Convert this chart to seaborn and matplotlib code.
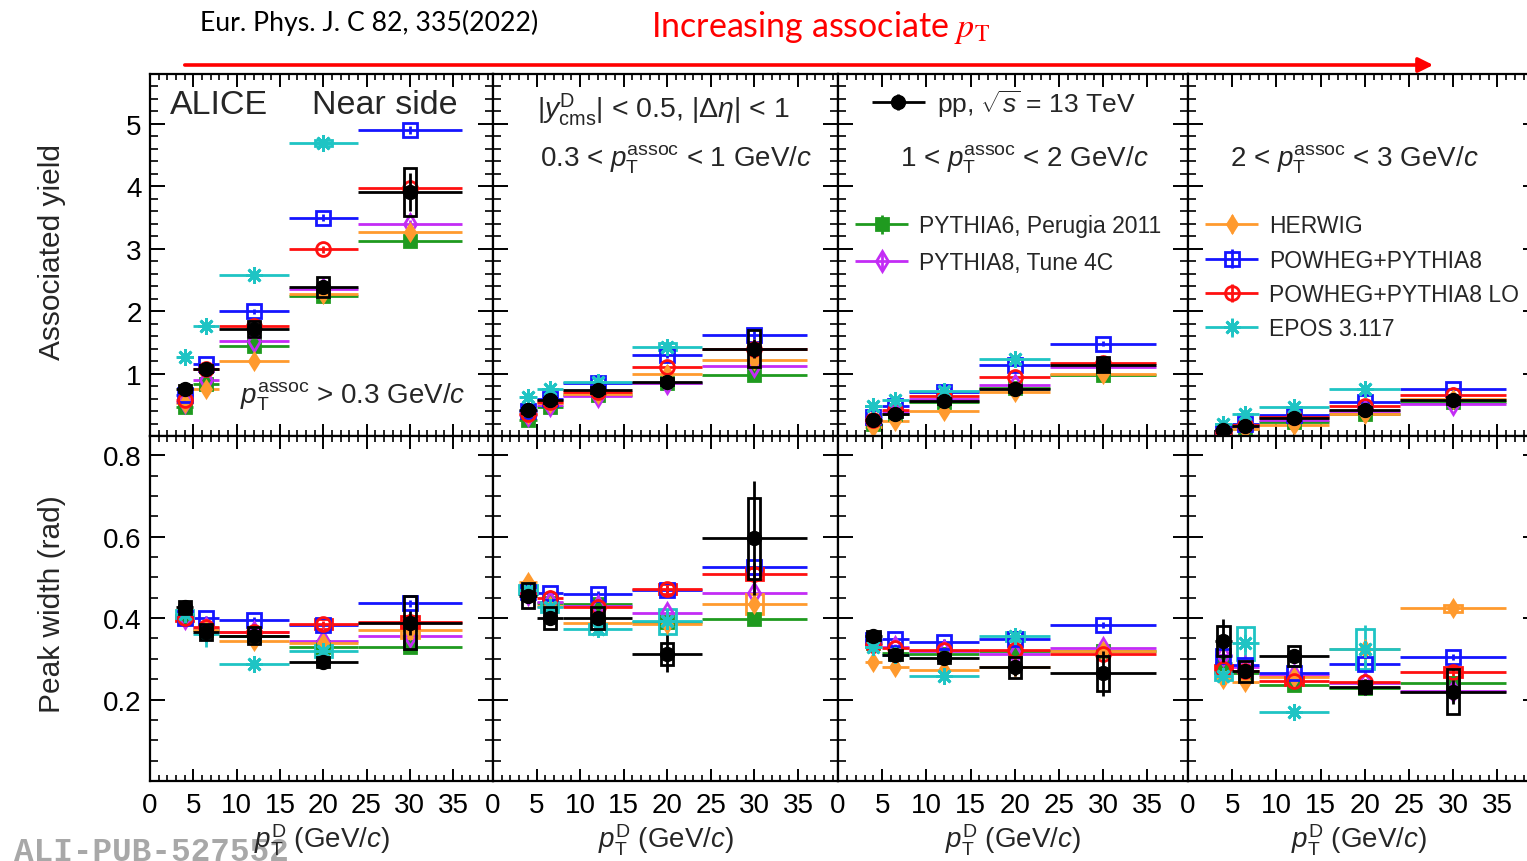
import numpy as np
import matplotlib
matplotlib.use("Agg")
import matplotlib.pyplot as plt
from matplotlib.patches import Rectangle, FancyArrowPatch
from matplotlib.ticker import MultipleLocator, FixedLocator
from matplotlib.container import ErrorbarContainer
from matplotlib.legend_handler import HandlerErrorbar
import seaborn as sns

nan = np.nan

# D-meson pT bins (GeV/c)
pt_lo = [3, 5, 8, 16, 24]
pt_hi = [5, 8, 16, 24, 36]
pt_mid = [4, 6.5, 12, 20, 30]
x_ticks = [0, 5, 10, 15, 20, 25, 30, 35]

assoc_labels = [
    r"$p_{\rm T}^{\rm assoc}$ > 0.3 GeV/$c$",
    r"0.3 < $p_{\rm T}^{\rm assoc}$ < 1 GeV/$c$",
    r"1 < $p_{\rm T}^{\rm assoc}$ < 2 GeV/$c$",
    r"2 < $p_{\rm T}^{\rm assoc}$ < 3 GeV/$c$",
]

# ---- ALICE pp 13 TeV measurement (one row per associated-pT interval) ----
yield_data = [[0.76, 1.08, 1.72, 2.39, 3.91],
              [0.41, 0.57, 0.74, 0.87, 1.40],
              [0.25, 0.35, 0.56, 0.76, 1.14],
              [0.09, 0.16, 0.29, 0.42, 0.57]]
yield_stat = [[0.03, 0.04, 0.06, 0.08, 0.30],
              [0.02, 0.03, 0.04, 0.05, 0.15],
              [0.02, 0.02, 0.03, 0.05, 0.10],
              [0.01, 0.02, 0.02, 0.04, 0.06]]
yield_syst = [[0.05, 0.06, 0.13, 0.16, 0.38],
              [0.04, 0.04, 0.05, 0.06, 0.30],
              [0.03, 0.04, 0.05, 0.06, 0.12],
              [0.02, 0.02, 0.04, 0.05, 0.06]]

width_data = [[0.426, 0.366, 0.357, 0.293, 0.388],
              [0.455, 0.400, 0.400, 0.313, 0.596],
              [0.357, 0.310, 0.301, 0.279, 0.264],
              [0.344, 0.269, 0.307, 0.230, 0.219]]
width_stat = [[0.012, 0.012, 0.012, 0.012, 0.030],
              [0.015, 0.015, 0.015, 0.045, 0.140],
              [0.015, 0.012, 0.012, 0.020, 0.055],
              [0.053, 0.012, 0.015, 0.020, 0.030]]
width_syst = [[0.015, 0.020, 0.021, 0.012, 0.065],
              [0.030, 0.026, 0.026, 0.027, 0.100],
              [0.012, 0.012, 0.012, 0.025, 0.042],
              [0.037, 0.025, 0.025, 0.015, 0.055]]

# ---- model predictions ----
yield_pythia6 = [[0.47, 0.84, 1.45, 2.25, 3.13],
                 [0.25, 0.47, 0.65, 0.85, 0.97],
                 [0.20, 0.36, 0.55, 0.77, 0.98],
                 [0.06, 0.12, 0.22, 0.36, 0.55]]
yield_pythia8 = [[0.55, 0.89, 1.52, 2.36, 3.40],
                 [0.33, 0.49, 0.64, 0.85, 1.12],
                 [0.22, 0.38, 0.60, 0.81, 1.10],
                 [0.07, 0.14, 0.26, 0.40, 0.52]]
yield_herwig = [[0.53, 0.76, 1.20, 2.27, 3.27],
                [0.35, 0.53, 0.67, 0.99, 1.21],
                [0.15, 0.24, 0.40, 0.71, 1.00],
                [0.05, 0.11, 0.17, 0.35, 0.59]]
yield_powheg = [[0.65, 1.15, 2.00, 3.50, 4.90],
                [0.40, 0.60, 0.85, 1.29, 1.62],
                [0.30, 0.48, 0.70, 1.13, 1.48],
                [0.08, 0.20, 0.33, 0.55, 0.76]]
yield_powheg_lo = [[0.57, 1.08, 1.77, 2.99, 3.98],
                   [0.36, 0.55, 0.71, 1.10, 1.40],
                   [0.25, 0.41, 0.64, 0.95, 1.17],
                   [0.07, 0.18, 0.30, 0.48, 0.65]]
yield_epos = [[1.27, 1.76, 2.58, 4.70, nan],
              [0.63, 0.75, 0.87, 1.43, nan],
              [0.48, 0.57, 0.72, 1.23, nan],
              [0.20, 0.36, 0.47, 0.76, nan]]

yield_pythia6_err = [[0.02, 0.03, 0.04, 0.05, 0.06], [0.02, 0.02, 0.03, 0.03, 0.04],
                     [0.01, 0.02, 0.02, 0.03, 0.04], [0.01, 0.01, 0.02, 0.02, 0.03]]
yield_pythia8_err = [[0.02, 0.03, 0.04, 0.05, 0.06], [0.02, 0.02, 0.03, 0.03, 0.04],
                     [0.01, 0.02, 0.02, 0.03, 0.04], [0.01, 0.01, 0.02, 0.02, 0.03]]
yield_herwig_err = [[0.03, 0.04, 0.05, 0.06, 0.07], [0.02, 0.03, 0.03, 0.04, 0.05],
                    [0.02, 0.02, 0.03, 0.03, 0.04], [0.01, 0.01, 0.02, 0.02, 0.03]]
yield_powheg_err = [[0.02, 0.03, 0.04, 0.05, 0.06], [0.02, 0.02, 0.03, 0.04, 0.06],
                    [0.01, 0.02, 0.02, 0.03, 0.04], [0.01, 0.01, 0.02, 0.02, 0.03]]
yield_powheg_lo_err = [[0.02, 0.03, 0.04, 0.05, 0.06], [0.02, 0.02, 0.03, 0.04, 0.05],
                       [0.01, 0.02, 0.02, 0.03, 0.04], [0.01, 0.01, 0.02, 0.02, 0.03]]
yield_epos_err = [[0.04, 0.05, 0.06, 0.08, nan], [0.03, 0.04, 0.04, 0.06, nan],
                  [0.03, 0.04, 0.04, 0.05, nan], [0.02, 0.03, 0.03, 0.04, nan]]

width_pythia6 = [[0.400, 0.370, 0.357, 0.330, 0.328],
                 [0.460, 0.437, 0.435, 0.390, 0.397],
                 [0.340, 0.315, 0.313, 0.320, 0.320],
                 [0.290, 0.265, 0.236, 0.228, 0.240]]
width_pythia8 = [[0.400, 0.375, 0.366, 0.344, 0.357],
                 [0.460, 0.440, 0.430, 0.412, 0.461],
                 [0.340, 0.330, 0.320, 0.313, 0.326],
                 [0.310, 0.280, 0.260, 0.240, 0.220]]
width_herwig = [[0.420, 0.370, 0.344, 0.338, 0.370],
                [0.488, 0.430, 0.387, 0.385, 0.434],
                [0.291, 0.279, 0.272, 0.280, 0.318],
                [0.250, 0.242, 0.255, 0.325, 0.424]]
width_powheg = [[0.400, 0.400, 0.396, 0.383, 0.436],
                [0.465, 0.461, 0.459, 0.470, 0.526],
                [0.345, 0.348, 0.342, 0.348, 0.383],
                [0.307, 0.285, 0.264, 0.287, 0.305]]
width_powheg_lo = [[0.400, 0.377, 0.365, 0.385, 0.391],
                   [0.460, 0.449, 0.426, 0.471, 0.508],
                   [0.335, 0.326, 0.322, 0.322, 0.312],
                   [0.275, 0.270, 0.246, 0.242, 0.267]]
width_epos = [[0.410, 0.360, 0.287, 0.320, nan],
              [0.470, 0.428, 0.373, 0.392, nan],
              [0.328, 0.310, 0.258, 0.355, nan],
              [0.258, 0.338, 0.169, 0.324, nan]]

width_pythia6_err = [[0.006, 0.006, 0.006, 0.006, 0.008], [0.008, 0.008, 0.008, 0.008, 0.008],
                     [0.006, 0.006, 0.006, 0.008, 0.008], [0.006, 0.006, 0.006, 0.008, 0.008]]
width_pythia8_err = [[0.006, 0.006, 0.006, 0.008, 0.010], [0.008, 0.008, 0.008, 0.010, 0.010],
                     [0.006, 0.006, 0.006, 0.008, 0.012], [0.006, 0.006, 0.006, 0.008, 0.008]]
width_herwig_err = [[0.008, 0.008, 0.008, 0.008, 0.010], [0.010, 0.008, 0.008, 0.010, 0.015],
                    [0.008, 0.010, 0.008, 0.008, 0.008], [0.010, 0.008, 0.008, 0.008, 0.010]]
width_powheg_err = [[0.006, 0.006, 0.006, 0.006, 0.008], [0.008, 0.008, 0.008, 0.008, 0.010],
                    [0.006, 0.006, 0.006, 0.006, 0.008], [0.006, 0.006, 0.006, 0.008, 0.008]]
width_powheg_lo_err = [[0.008, 0.006, 0.006, 0.008, 0.010], [0.008, 0.008, 0.008, 0.010, 0.012],
                       [0.006, 0.006, 0.006, 0.006, 0.008], [0.008, 0.006, 0.008, 0.008, 0.010]]
width_epos_err = [[0.012, 0.030, 0.020, 0.025, nan], [0.015, 0.015, 0.020, 0.030, nan],
                  [0.010, 0.012, 0.012, 0.015, nan], [0.010, 0.040, 0.010, 0.060, nan]]

# model uncertainty boxes (half heights, 0 = no box)
yield_epos_box = [[0, 0, 0, 0.05, nan], [0, 0, 0, 0.06, nan], [0, 0, 0, 0, nan], [0, 0, 0, 0, nan]]
width_epos_box = [[0.010, 0, 0, 0.015, nan], [0.012, 0.012, 0.012, 0.030, nan],
                  [0, 0, 0, 0.012, nan], [0.010, 0.040, 0, 0.050, nan]]
width_powheg_lo_box = [[0.008, 0, 0, 0.012, 0.015], [0, 0, 0, 0.012, 0.015],
                       [0, 0, 0, 0, 0], [0.010, 0, 0.010, 0, 0.012]]
width_herwig_box = [[0, 0, 0, 0, 0.020], [0, 0, 0, 0, 0.025], [0, 0, 0, 0, 0], [0, 0, 0, 0, 0.008]]

models = [
    dict(label="PYTHIA6, Perugia 2011", color="#1f9a1f", marker="s", open=False, ms=8,
         y=yield_pythia6, ye=yield_pythia6_err, w=width_pythia6, we=width_pythia6_err),
    dict(label="PYTHIA8, Tune 4C", color="#c32cf5", marker="d", open=True, ms=10,
         y=yield_pythia8, ye=yield_pythia8_err, w=width_pythia8, we=width_pythia8_err),
    dict(label="HERWIG", color="#ff9a2e", marker="d", open=False, ms=8,
         y=yield_herwig, ye=yield_herwig_err, w=width_herwig, we=width_herwig_err,
         wbox=width_herwig_box),
    dict(label="POWHEG+PYTHIA8", color="#1515ff", marker="s", open=True, ms=10,
         y=yield_powheg, ye=yield_powheg_err, w=width_powheg, we=width_powheg_err),
    dict(label="POWHEG+PYTHIA8 LO", color="#ff1010", marker="o", open=True, ms=10,
         y=yield_powheg_lo, ye=yield_powheg_lo_err, w=width_powheg_lo, we=width_powheg_lo_err,
         wbox=width_powheg_lo_box),
    dict(label="EPOS 3.117", color="#1fc4c4", marker=(8, 2, 0), open=False, ms=12,
         y=yield_epos, ye=yield_epos_err, w=width_epos, we=width_epos_err,
         ybox=yield_epos_box, wbox=width_epos_box),
]

# ---- style ----
sns.set_theme(style="ticks")
plt.rcParams["font.family"] = ["Liberation Sans", "DejaVu Sans"]
plt.rcParams["mathtext.fontset"] = "custom"
plt.rcParams["mathtext.rm"] = "Liberation Sans"
plt.rcParams["mathtext.it"] = "Liberation Sans:italic"
plt.rcParams["mathtext.bf"] = "Liberation Sans:bold"
plt.rcParams["mathtext.sf"] = "Liberation Sans"
plt.rcParams["axes.linewidth"] = 1.6
plt.rcParams["axes.edgecolor"] = "black"

W, H = 1527, 862
fig = plt.figure(figsize=(W / 100, H / 100), dpi=100)

col_px = [(150, 493), (493, 838), (838, 1188), (1188, 1538)]
row_px = [(75, 437), (437, 782)]


def add_panel(c, r):
    x0, x1 = col_px[c]
    y0, y1 = row_px[r]
    return fig.add_axes([x0 / W, 1 - y1 / H, (x1 - x0) / W, (y1 - y0) / H])


mid = np.array(pt_mid, dtype=float)
xerr = [mid - np.array(pt_lo), np.array(pt_hi) - mid]
box_hw_data = 0.7
box_hw_model = 1.0
err_handler_small = {ErrorbarContainer: HandlerErrorbar(xerr_size=1.15, yerr_size=0.4)}

handles = {}
for r in range(2):
    for c in range(4):
        ax = add_panel(c, r)
        ax.set_facecolor("white")
        for m in models:
            vals = np.array((m["y"] if r == 0 else m["w"])[c], dtype=float)
            errs = np.array((m["ye"] if r == 0 else m["we"])[c], dtype=float)
            boxes = m.get("ybox" if r == 0 else "wbox")
            if boxes is not None:
                for xi, v, b in zip(mid, vals, boxes[c]):
                    if b and not np.isnan(b):
                        ax.add_patch(Rectangle((xi - box_hw_model, v - b), 2 * box_hw_model, 2 * b,
                                               fill=False, ec=m["color"], lw=2, zorder=3))
            cont = ax.errorbar(mid, vals, xerr=xerr, yerr=errs,
                               linestyle="none", marker=m["marker"], ms=m["ms"],
                               color=m["color"], mec=m["color"],
                               mfc="none" if m["open"] else m["color"], mew=2,
                               elinewidth=2, capsize=0, zorder=3)
            if r == 0 and c == 0:
                handles[m["label"]] = cont

        dv = np.array((yield_data if r == 0 else width_data)[c])
        ds = np.array((yield_stat if r == 0 else width_stat)[c])
        dy = np.array((yield_syst if r == 0 else width_syst)[c])
        for xi, v, s in zip(mid, dv, dy):
            ax.add_patch(Rectangle((xi - box_hw_data, v - s), 2 * box_hw_data, 2 * s,
                                   fill=False, ec="black", lw=2, zorder=4))
        dcont = ax.errorbar(mid, dv, xerr=xerr, yerr=ds, linestyle="none", marker="o", ms=10,
                            color="black", mec="black", mfc="black", elinewidth=2,
                            capsize=0, zorder=5)
        if r == 0 and c == 0:
            handles["data"] = dcont

        ax.set_xlim(0, 39.6)
        ax.xaxis.set_major_locator(FixedLocator(x_ticks))
        ax.xaxis.set_minor_locator(MultipleLocator(1))
        if r == 0:
            ax.set_ylim(0, 5.8)
            ax.yaxis.set_major_locator(FixedLocator([1, 2, 3, 4, 5]))
            ax.yaxis.set_minor_locator(MultipleLocator(0.2))
        else:
            ax.set_ylim(0, 0.847)
            ax.yaxis.set_major_locator(FixedLocator([0.2, 0.4, 0.6, 0.8]))
            ax.yaxis.set_minor_locator(MultipleLocator(0.05))
            if c == 0:
                ax.set_yticklabels(["0.2", "0.4", "0.6", "0.8"])

        ax.tick_params(which="both", direction="in", top=True, right=True,
                       bottom=True, left=True, color="black", labelsize=20,
                       labelcolor="black")
        ax.tick_params(axis="y", which="major", length=11, width=1.4, pad=6)
        ax.tick_params(axis="y", which="minor", length=6, width=1.2)
        ax.tick_params(axis="x", which="major", length=9, width=1.4, pad=8)
        ax.tick_params(axis="x", which="minor", length=4.5, width=1.2)
        ax.tick_params(labelbottom=(r == 1), labelleft=(c == 0))
        for sp in ax.spines.values():
            sp.set_visible(True)
            sp.set_linewidth(1.6)
            sp.set_color("black")

        if r == 1:
            xc = (col_px[c][0] + col_px[c][1]) / 2
            if c == 3:
                xc = 1188 + 171
            fig.text(xc / W, 1 - 840 / H, r"$p_{\rm T}^{\rm D}$ (GeV/$c$)", fontsize=20,
                     ha="center", va="center", zorder=6)

        if r == 0:
            if c == 0:
                ax.text(0.058, 0.917, "ALICE", transform=ax.transAxes, fontsize=24.5,
                        ha="left", va="center")
                ax.text(0.898, 0.917, "Near side", transform=ax.transAxes, fontsize=24.5,
                        ha="right", va="center")
                ax.text(0.262, 0.11, assoc_labels[0], transform=ax.transAxes, fontsize=20,
                        ha="left", va="center")
            else:
                ax.text({1: 0.136, 2: 0.177, 3: 0.12}[c], 0.765, assoc_labels[c],
                        transform=ax.transAxes, fontsize=20, ha="left", va="center")
            if c == 1:
                ax.text(0.128, 0.905,
                        r"$|y^{\rm D}_{\rm cms}|$ < 0.5, $|\Delta\eta|$ < 1",
                        transform=ax.transAxes, fontsize=20.5, ha="left", va="center")
            if c == 2:
                leg0 = ax.legend([handles["data"]], [r"pp, $\sqrt{s}$ = 13 TeV"],
                                 loc="upper left", bbox_to_anchor=(0.097, 0.964),
                                 fontsize=19, frameon=False, borderpad=0, borderaxespad=0,
                                 handlelength=2.0, handletextpad=0.45, numpoints=1,
                                 handler_map={ErrorbarContainer: HandlerErrorbar(xerr_size=1.0, yerr_size=0.3)})
                ax.add_artist(leg0)
                labs = ["PYTHIA6, Perugia 2011", "PYTHIA8, Tune 4C"]
                ax.legend([handles[l] for l in labs], labs, loc="upper left",
                          bbox_to_anchor=(0.049, 0.612), fontsize=16.5, frameon=False,
                          borderpad=0, borderaxespad=0, handlelength=2.3,
                          handletextpad=0.5, labelspacing=0.58, numpoints=1,
                          handler_map=err_handler_small)
            if c == 3:
                labs = ["HERWIG", "POWHEG+PYTHIA8", "POWHEG+PYTHIA8 LO", "EPOS 3.117"]
                ax.legend([handles[l] for l in labs], labs, loc="upper left",
                          bbox_to_anchor=(0.049, 0.613), fontsize=16.5, frameon=False,
                          borderpad=0, borderaxespad=0, handlelength=2.3,
                          handletextpad=0.5, labelspacing=0.5, numpoints=1,
                          handler_map=err_handler_small)

# axis titles
fig.text(52 / W, 1 - 252 / H, "Associated yield", rotation=90, fontsize=21.5,
         ha="center", va="center")
fig.text(52 / W, 1 - 604 / H, "Peak width (rad)", rotation=90, fontsize=21.5,
         ha="center", va="center")

# header
fig.text(200 / W, 1 - 23 / H, "Eur. Phys. J. C 82, 335(2022)", family="Lato",
         fontsize=19.2, ha="left", va="center", color="black")
fig.text(651 / W, 1 - 28 / H, r"Increasing associate $p_{\mathrm{T}}$", family="Lato",
         fontsize=24.5, ha="left", va="center", color="#ff0000", math_fontfamily="stix")
fig.add_artist(FancyArrowPatch((182 / W, 1 - 66 / H), (1436 / W, 1 - 66 / H),
                               transform=fig.transFigure, arrowstyle="-|>",
                               mutation_scale=22, color="#ff0000", lw=2.6))

# publication tag
fig.text(14 / W, 1 / H, "ALI-PUB-527552", family="Liberation Mono",
         weight="bold", fontsize=23.5, color="#a8a8a8", ha="left", va="baseline", zorder=1)

fig.savefig("out.png", dpi=100, facecolor="white")
